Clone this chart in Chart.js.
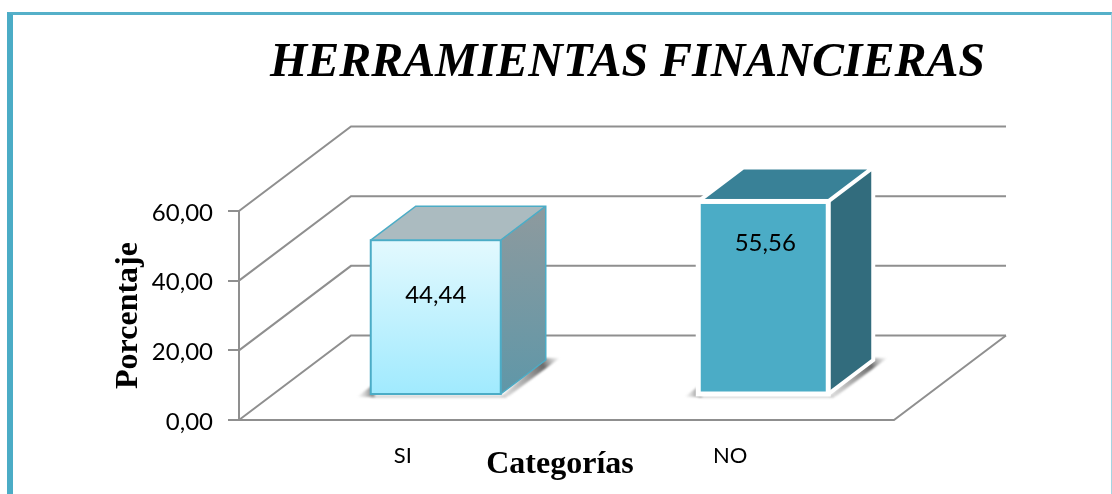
<!DOCTYPE html>
<html>
<head>
<meta charset="utf-8">
<style>
  html, body { margin: 0; padding: 0; background: #fff; }
  #wrap { position: relative; width: 1112px; height: 494px; overflow: hidden; }
  #frame { position: absolute; left: 7px; top: 12px; width: 1105px; height: 490px; box-sizing: border-box;
           border-left: 6px solid #4bacc6; border-top: 3px solid #55b0c9; border-right: 1px solid #a5d5e2; }
  canvas { position: absolute; left: 0; top: 0; }
</style>
<script src="https://cdn.jsdelivr.net/npm/chart.js@4"></script>
</head>
<body>
<div id="wrap">
  <div id="frame"></div>
  <canvas id="herramientas" width="1112" height="494"></canvas>
</div>
<script>
const categories = ['SI', 'NO'];
const valores = [44.44, 55.56];
const titulo = 'HERRAMIENTAS FINANCIERAS';
const tituloY = 'Porcentaje';
const tituloX = 'Categorías';

// colores de cada barra: [frente arriba, frente abajo, tapa, lado arriba, lado abajo, borde]
const coloresBarra = [
    ['#e3f9fe', '#a0eafe', '#abbbc0', '#8e9a9e', '#5f97a8', '#4bacc6'],
    ['#4bacc6', '#4bacc6', '#398197', '#326c7d', '#326c7d', '#ffffff']
];
const gruesoBorde = [2, 5];
const bajadaEtiqueta = [55, 42]; // distancia de la etiqueta al tope de la barra
const corrimientoEtiqueta = [0, 2];

const GRIS = '#8f8f8f';
const FONDO = { dx: 112, dy: 84.5 };  // profundidad de las paredes
const CUBO = { dx: 45, dy: 34 };      // profundidad de cada barra
const BASE = { dx: 33, dy: 25 };      // las barras van en medio del piso

function coma(v, dec = 2) {
    return v.toFixed(dec).replace('.', ',');
}

function poligono(ctx, pts, fill) {
    ctx.beginPath();
    pts.forEach((p, i) => i ? ctx.lineTo(p[0], p[1]) : ctx.moveTo(p[0], p[1]));
    ctx.closePath();
    ctx.fillStyle = fill;
    ctx.fill();
}

// mueve titulo general y titulo del eje X a su sitio
const ajustes = {
    id: 'ajustes',
    afterLayout(chart) {
        chart.titleBlock.left = 270;
        chart.titleBlock.right = 985;
        chart.scales.x.right -= 13;
    }
};

const cubos = {
    id: 'cubos',
    beforeDatasetsDraw(chart) {
        const { ctx, chartArea: a, scales: { y } } = chart;
        // paredes y piso
        ctx.save();
        ctx.strokeStyle = GRIS;
        ctx.lineWidth = 2;
        y.ticks.forEach(t => {
            const py = y.getPixelForValue(t.value);
            ctx.beginPath();
            ctx.moveTo(a.left, py);
            ctx.lineTo(a.left + FONDO.dx, py - FONDO.dy);
            ctx.lineTo(a.right + FONDO.dx, py - FONDO.dy);
            ctx.stroke();
        });
        ctx.beginPath();
        ctx.moveTo(a.left, a.bottom);
        ctx.lineTo(a.right, a.bottom);
        ctx.lineTo(a.right + FONDO.dx, a.bottom - FONDO.dy);
        ctx.stroke();
        ctx.restore();

        // lados y tapas; el frente lo pinta la propia barra
        ctx.save();
        ctx.translate(BASE.dx, -BASE.dy);
        chart.getDatasetMeta(0).data.forEach((bar, i) => {
            const c = coloresBarra[i];
            const l = bar.x - bar.width / 2, r = bar.x + bar.width / 2;
            const t = bar.y, b = bar.base;

            // sombra sobre el piso
            ctx.save();
            ctx.filter = 'blur(1px)';
            const s1 = ctx.createLinearGradient(l - 14, 0, l + 4, 0);
            s1.addColorStop(0, 'rgba(170,170,170,0)');
            s1.addColorStop(1, 'rgba(80,80,80,0.85)');
            poligono(ctx, [[l - 14, b + 3], [l + 2, b - 9], [l + 4, b + 3]], s1);
            poligono(ctx, [[l, b + 1], [r + 6, b + 1], [r + 6, b + 4], [l, b + 4]], 'rgba(170,170,170,0.45)');
            const s2 = ctx.createLinearGradient(r, b, r + CUBO.dx + 14, b - CUBO.dy);
            s2.addColorStop(0, 'rgba(190,190,190,0.5)');
            s2.addColorStop(0.75, 'rgba(80,80,80,0.85)');
            s2.addColorStop(1, 'rgba(150,150,150,0.1)');
            poligono(ctx, [[r, b + 3], [r + 8, b + 2], [r + CUBO.dx + 14, b - CUBO.dy - 2], [r + CUBO.dx - 2, b - CUBO.dy - 2]], s2);
            ctx.restore();

            const lado = ctx.createLinearGradient(0, t - CUBO.dy, 0, b);
            lado.addColorStop(0, c[3]);
            lado.addColorStop(1, c[4]);
            const caraLado = [[r, t], [r + CUBO.dx, t - CUBO.dy], [r + CUBO.dx, b - CUBO.dy], [r, b]];
            const caraTapa = [[l, t], [l + CUBO.dx, t - CUBO.dy], [r + CUBO.dx, t - CUBO.dy], [r, t]];
            poligono(ctx, caraLado, lado);
            poligono(ctx, caraTapa, c[2]);

            ctx.strokeStyle = c[5];
            ctx.lineWidth = gruesoBorde[i] === 2 ? 1.5 : 4;
            ctx.lineJoin = 'miter';
            ctx.beginPath();
            ctx.moveTo(l, t);
            ctx.lineTo(l + CUBO.dx, t - CUBO.dy);
            ctx.lineTo(r + CUBO.dx, t - CUBO.dy);
            ctx.lineTo(r + CUBO.dx, b - CUBO.dy);
            ctx.lineTo(r, b);
            ctx.moveTo(r, t);
            ctx.lineTo(r + CUBO.dx, t - CUBO.dy);
            ctx.stroke();
        });
    },
    afterDatasetsDraw(chart) {
        const { ctx } = chart;
        chart.getDatasetMeta(0).data.forEach((bar, i) => {
            const l = bar.x - bar.width / 2;
            ctx.strokeStyle = coloresBarra[i][5];
            ctx.lineWidth = gruesoBorde[i];
            ctx.strokeRect(l, bar.y, bar.width, bar.base - bar.y);
            ctx.fillStyle = '#000';
            ctx.font = '24px Lato';
            ctx.textAlign = 'center';
            ctx.textBaseline = 'middle';
            ctx.fillText(coma(valores[i]), bar.x + corrimientoEtiqueta[i], bar.y + bajadaEtiqueta[i]);
        });
        ctx.restore();
    }
};

const canvas = document.getElementById('herramientas');
new Chart(canvas.getContext('2d'), {
    type: 'bar',
    data: {
        labels: categories,
        datasets: [{
            data: valores,
            barThickness: 130,
            borderWidth: 0,
            backgroundColor: c => {
                const { ctx, chartArea, scales: { y } } = c.chart;
                if (!chartArea || c.type !== 'data') return coloresBarra[0][1];
                const g = ctx.createLinearGradient(0, y.getPixelForValue(c.raw), 0, y.getPixelForValue(0));
                g.addColorStop(0, coloresBarra[c.dataIndex][0]);
                g.addColorStop(1, coloresBarra[c.dataIndex][1]);
                return g;
            }
        }]
    },
    options: {
        responsive: false,
        animation: false,
        layout: { padding: { left: 0, top: 0, right: 218, bottom: 0 } },
        plugins: {
            legend: { display: false },
            tooltip: { enabled: false },
            title: {
                display: true,
                text: titulo,
                color: '#000',
                font: { family: 'Liberation Serif', size: 48, weight: 'bold', style: 'italic', lineHeight: 1 },
                padding: { top: 40, bottom: 123 }
            }
        },
        scales: {
            x: {
                afterFit: s => { s.height = 74; },
                grid: { display: false },
                border: { display: false },
                ticks: { color: '#000', padding: 15, font: { family: 'Lato', size: 22 } },
                title: {
                    display: true,
                    text: tituloX,
                    color: '#000',
                    font: { family: 'Liberation Serif', size: 32, weight: 'bold', lineHeight: 1 },
                    padding: { top: 0, bottom: 13 }
                }
            },
            y: {
                min: 0,
                max: 60,
                afterFit: s => { s.width = 239; },
                grid: { drawOnChartArea: false, color: GRIS, tickColor: GRIS, tickLength: 11, lineWidth: 2 },
                border: { display: true, color: GRIS, width: 2 },
                ticks: {
                    stepSize: 20,
                    color: '#000',
                    padding: 15,
                    labelOffset: 2,
                    font: { family: 'Lato', size: 24 },
                    callback: v => coma(v)
                },
                title: {
                    display: true,
                    text: tituloY,
                    color: '#000',
                    font: { family: 'Liberation Serif', size: 32, weight: 'bold', lineHeight: 1 },
                    padding: { top: 113, bottom: 0 }
                }
            }
        }
    },
    plugins: [ajustes, cubos]
});
</script>
</body>
</html>
